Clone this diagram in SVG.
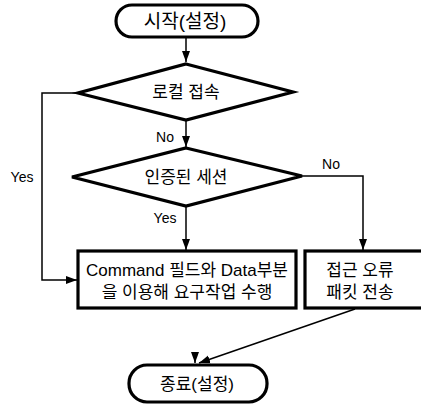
<svg xmlns="http://www.w3.org/2000/svg" width="421" height="405" viewBox="0 0 421 405">
<defs>
<marker id="ah" markerWidth="12" markerHeight="10" refX="11" refY="5" orient="auto" markerUnits="userSpaceOnUse">
<path d="M0,1 L11,5 L0,9 Z" fill="#000"/>
</marker>
<style>
.shape{fill:#fff;stroke:#000;stroke-width:3.2}
.conn{fill:none;stroke:#000;stroke-width:1.5}
text{font-family:"Liberation Sans","Noto Sans CJK KR",sans-serif;fill:#000;text-anchor:middle;dominant-baseline:central}
.t{font-size:17px}
.big{font-size:19px}
.lbl{font-size:14px}
</style>
</defs>
<rect width="421" height="405" fill="#fff"/>
<g id="connectors">
<path class="conn" d="M186,37 V62" marker-end="url(#ah)"/>
<path class="conn" d="M186,120 V147" marker-end="url(#ah)"/>
<path class="conn" d="M78,93 H42 V280 H77" marker-end="url(#ah)"/>
<path class="conn" d="M186,206 V250" marker-end="url(#ah)"/>
<path class="conn" d="M302,176 H363 V250" marker-end="url(#ah)"/>
<path class="conn" d="M355,309 L199,363" marker-end="url(#ah)"/>
<path class="conn" d="M195,352 V363" marker-end="url(#ah)"/>
</g>
<g id="start">
<rect class="shape" x="116" y="5" width="142" height="32" rx="16"/>
<text class="big" x="185" y="21">시작(설정)</text>
</g>
<g id="local">
<polygon class="shape" points="186,64 293,92 186,120 78,93"/>
<text class="t" x="186" y="92">로컬 접속</text>
</g>
<g id="auth">
<polygon class="shape" points="186,148 302,176 186,206 72,177"/>
<text class="t" x="186" y="177">인증된 세션</text>
</g>
<g id="labels">
<text class="lbl" x="165" y="137">No</text>
<text class="lbl" x="22" y="177">Yes</text>
<text class="lbl" x="331" y="164">No</text>
<text class="lbl" x="165" y="218">Yes</text>
</g>
<g id="perform">
<rect class="shape" x="78" y="251" width="218" height="57"/>
<text class="t" x="187" y="270">Command 필드와 Data부분</text>
<text class="t" x="187" y="292">을 이용해 요구작업 수행</text>
</g>
<g id="error">
<rect class="shape" x="305" y="251" width="125" height="57"/>
<text class="t" x="360" y="270">접근 오류</text>
<text class="t" x="360" y="292">패킷 전송</text>
</g>
<g id="end">
<rect class="shape" x="129" y="365" width="138" height="37" rx="18"/>
<text class="t" x="197" y="384">종료(설정)</text>
</g>
</svg>
